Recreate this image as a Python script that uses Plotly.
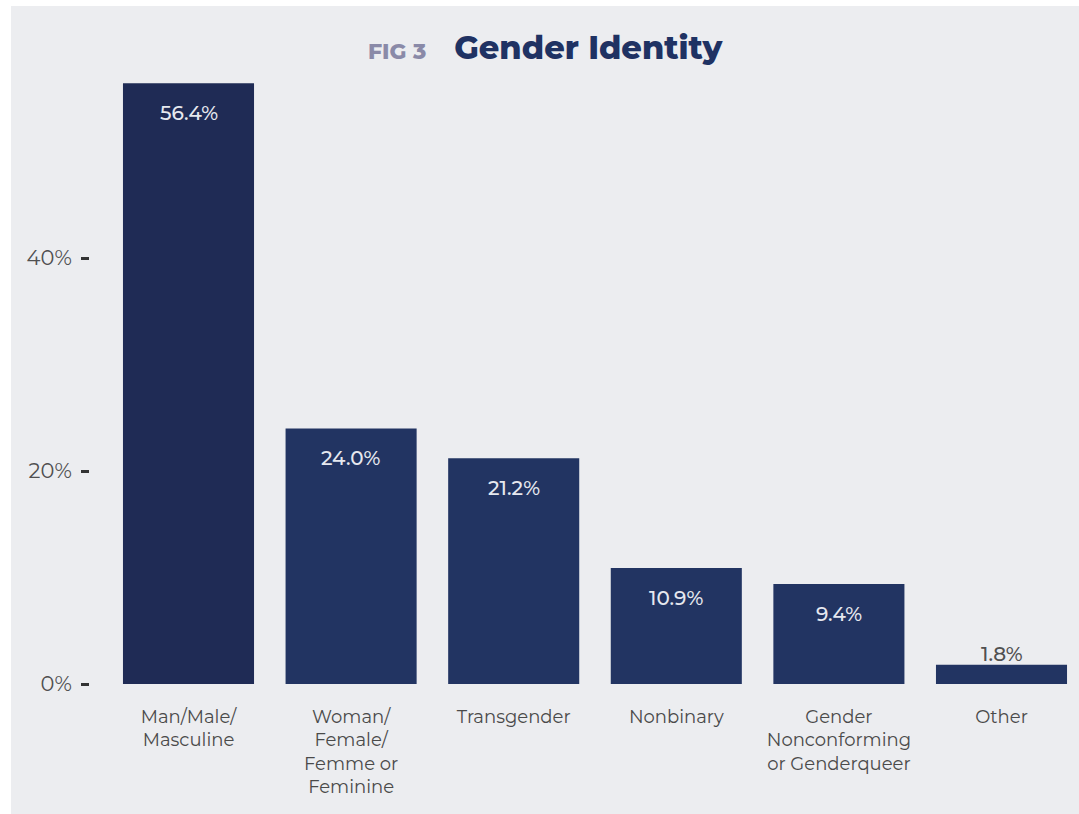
import plotly.graph_objects as go

# Данные для графика
categories = ["Man/Male/<br>Masculine", "Woman/<br>Female/<br>Femme or<br>Feminine", "Transgender",
              "Nonbinary", "Gender<br>Nonconforming<br>or Genderqueer", "Other"]
values = [56.4, 24.0, 21.2, 10.9, 9.4, 1.8]
labels = ["56.4%", "24.0%", "21.2%", "10.9%", "9.4%", "1.8%"]
tick_vals = [0, 20, 40]
tick_text = ["0%", "20%", "40%"]

bg = "#ECEDF0"
bar_colors = ["#1F2B55"] + ["#223462"] * (len(values) - 1)
font_family = "Montserrat, Inter, Lato, sans-serif"

# размеры области построения (отступ body убираем скриптом ниже)
L, T, B = 90, 80, 130
W, H = 1079, 814
PW, PH = W - L, H - T - B

fig = go.Figure()
fig.add_trace(go.Bar(
    x=list(range(len(categories))),
    y=values,
    marker=dict(color=bar_colors, line=dict(width=0)),
    hoverinfo="skip",
))

# подписи значений: внутри столбца, а для маленького - над ним
for i, (v, lab) in enumerate(zip(values, labels)):
    small = v < 5
    fig.add_annotation(
        x=i, y=v, text=lab, showarrow=False,
        yshift=11 if small else -30,
        font=dict(family=font_family, size=20, weight=500,
                  color="#505050" if small else "#E6E8EF"),
    )

# заголовок
fig.add_annotation(
    xref="paper", yref="paper", x=(545 - L) / PW, y=(H - B - 48) / PH,
    text="<span style='font-size:22px;color:#8A8AA8'>FIG 3</span>"
         "&nbsp;&nbsp;&nbsp;Gender Identity",
    showarrow=False, yanchor="middle", xanchor="center",
    font=dict(family=font_family, size=32, color="#1F3263", weight=800),
)

# белые полоски слева и сверху
fig.add_shape(type="rect", xref="paper", yref="paper", x0=-1, x1=-(L - 11) / PW,
              y0=-1, y1=2, fillcolor="white", line=dict(width=0), layer="above")
fig.add_shape(type="rect", xref="paper", yref="paper", x0=-1, x1=2,
              y0=(H - B - 6) / PH, y1=2, fillcolor="white", line=dict(width=0), layer="above")

fig.update_xaxes(
    range=[-(188.5 - L) / 162.6, (W - 188.5) / 162.6],
    tickmode="array", tickvals=list(range(len(categories))), ticktext=categories,
    tickfont=dict(family=font_family, size=18, color="#4A4A4A"),
    ticks="", showgrid=False, zeroline=False, showline=False,
    ticklabelstandoff=20,
)
fig.update_yaxes(
    range=[0, (H - B - T) / 10.65],
    tickmode="array", tickvals=tick_vals, ticktext=tick_text,
    tickfont=dict(family=font_family, size=21, color="#505050"),
    ticks="outside", ticklen=8, tickwidth=3, tickcolor="#333333",
    ticklabelstandoff=5,
    showgrid=False, zeroline=False, showline=False,
)
fig.update_layout(
    width=W, height=H,
    margin=dict(l=L, r=0, t=T, b=B),
    paper_bgcolor=bg, plot_bgcolor=bg,
    bargap=0.194,
    showlegend=False,
)

fig.write_html("out.html", config={"displayModeBar": False},
               post_script="document.body.style.margin='0px';")
